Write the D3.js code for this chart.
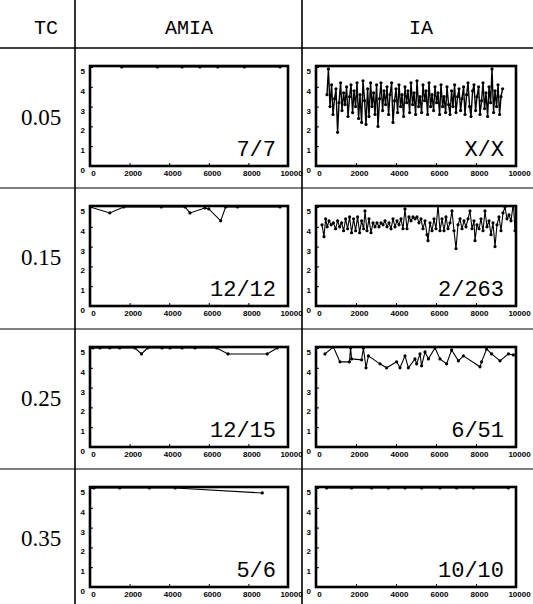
<!DOCTYPE html>
<html>
<head>
<meta charset="utf-8">
<script src="https://cdn.jsdelivr.net/npm/d3@7"></script>
<style>
  body { margin: 0; background: #fff; }
  .tick text { font-family: "Liberation Sans", Arial, sans-serif; font-weight: bold; font-size: 8px; }
</style>
</head>
<body>
<div id="chart"></div>
<script>
"use strict"

// table labels
const tcLabels = ["0.05", "0.15", "0.25", "0.35"];
const methods = ["AMIA", "IA"];
const xTicks = [0, 2000, 4000, 6000, 8000, 10000];
const yTicks = [0, 1, 2, 3, 4, 5];

// counts written in the corner of each panel
const amiaRatios = ["7/7", "12/12", "12/15", "5/6"];
const iaRatios = ["X/X", "2/263", "6/51", "10/10"];

// AMIA series, [iteration, value]
const amia005 = [[1600, 5], [3400, 5], [4650, 5], [5550, 5], [6450, 5], [7800, 5], [9600, 5]];
const amia015 = [[0, 5], [1000, 4.7], [1700, 5], [3600, 5], [4800, 5], [5050, 4.7], [5800, 4.95],
  [6000, 4.9], [6600, 4.3], [6850, 5], [7450, 5], [9600, 5]];
const amia025 = [[150, 5], [500, 5], [1000, 5], [1500, 5], [2270, 5], [2600, 4.7], [2900, 5], [3640, 5],
  [4040, 5], [4650, 5], [5300, 5], [6400, 5], [6970, 4.7], [8950, 4.7], [9450, 5]];
const amia035 = [[200, 5], [1500, 5], [3000, 5], [4300, 5], [8700, 4.75]];

// IA series, [iteration, value]
const ia005 = [[550, 3.6], [620, 4.9], [700, 3.0], [780, 4.1], [850, 2.6], [930, 3.4], [1000, 3.9], [1080, 1.7],
  [1150, 3.2], [1230, 4.2], [1300, 2.8], [1380, 3.7], [1450, 3.1], [1530, 4.0], [1600, 2.5], [1680, 3.5],
  [1750, 4.1], [1830, 2.7], [1900, 3.8], [1980, 3.0], [2050, 4.2], [2130, 2.4], [2200, 3.6], [2280, 2.2],
  [2350, 4.3], [2430, 3.3], [2500, 2.1], [2580, 3.9], [2650, 2.5], [2730, 4.2], [2800, 3.0], [2880, 3.7],
  [2950, 2.6], [3030, 4.1], [3100, 2.0], [3180, 3.4], [3250, 4.2], [3330, 2.8], [3400, 3.8], [3480, 3.1],
  [3550, 4.0], [3630, 2.6], [3700, 3.6], [3780, 4.2], [3850, 2.2], [3930, 3.3], [4000, 3.9], [4080, 2.7],
  [4150, 4.1], [4230, 3.0], [4300, 3.6], [4380, 2.5], [4450, 4.0], [4530, 3.2], [4600, 3.8], [4680, 2.7],
  [4750, 4.2], [4830, 3.1], [4900, 3.7], [4980, 2.6], [5050, 4.3], [5130, 3.0], [5200, 3.5], [5280, 2.7],
  [5350, 4.1], [5430, 3.3], [5500, 3.8], [5580, 2.6], [5650, 4.2], [5730, 3.0], [5800, 3.6], [5880, 2.8],
  [5950, 4.0], [6030, 3.2], [6100, 3.7], [6180, 2.6], [6250, 4.1], [6330, 3.0], [6400, 3.5], [6480, 2.7],
  [6550, 4.0], [6630, 3.1], [6700, 2.6], [6780, 3.8], [6850, 3.0], [6930, 4.1], [7000, 2.7], [7080, 3.5],
  [7150, 3.9], [7230, 2.8], [7300, 3.4], [7380, 4.0], [7450, 2.6], [7530, 3.6], [7600, 4.2], [7680, 3.0],
  [7750, 2.5], [7830, 3.8], [7900, 4.1], [7980, 2.8], [8050, 3.5], [8130, 4.0], [8200, 2.6], [8280, 3.3],
  [8350, 4.2], [8430, 2.9], [8500, 3.7], [8580, 2.5], [8650, 4.0], [8730, 3.2], [8800, 4.9], [8880, 2.7],
  [8950, 3.8], [9030, 3.0], [9100, 4.1], [9180, 2.6], [9250, 3.5], [9330, 3.9]];
const ia015 = [[300, 4.1], [400, 3.5], [480, 4.4], [560, 4.0], [650, 4.3], [760, 4.1], [870, 4.2], [980, 3.9],
  [1080, 4.3], [1180, 4.0], [1280, 4.2], [1380, 3.8], [1480, 4.4], [1580, 3.9], [1680, 4.5], [1780, 3.7],
  [1880, 4.4], [1980, 3.8], [2080, 4.5], [2180, 3.7], [2280, 4.3], [2380, 3.9], [2450, 4.8], [2550, 3.8],
  [2650, 4.4], [2750, 3.7], [2850, 4.2], [2950, 4.0], [3050, 4.2], [3150, 4.0], [3250, 4.2], [3350, 4.1],
  [3450, 4.3], [3550, 4.0], [3650, 4.2], [3750, 3.9], [3850, 4.4], [3950, 4.0], [4050, 4.3], [4150, 4.1],
  [4250, 4.4], [4350, 3.9], [4450, 4.9], [4550, 3.9], [4650, 4.5], [4750, 4.3], [4850, 4.5], [4950, 4.4],
  [5050, 4.5], [5150, 4.2], [5250, 4.4], [5350, 3.9], [5450, 4.3], [5550, 3.6], [5600, 3.3], [5700, 4.2],
  [5800, 3.8], [5900, 4.4], [6000, 3.9], [6100, 5.1], [6200, 3.8], [6300, 4.4], [6400, 3.8], [6500, 4.5],
  [6600, 3.9], [6700, 4.2], [6800, 4.8], [6900, 3.8], [7000, 2.9], [7100, 4.1], [7200, 4.4], [7300, 3.9],
  [7400, 4.3], [7500, 4.0], [7600, 4.4], [7700, 4.8], [7800, 3.9], [7900, 4.3], [7950, 3.3], [8050, 4.1],
  [8150, 3.9], [8250, 4.4], [8350, 3.8], [8450, 4.8], [8550, 4.0], [8650, 4.3], [8750, 3.6], [8850, 4.2],
  [8950, 3.0], [9050, 4.1], [9150, 4.5], [9250, 3.8], [9350, 4.7], [9450, 5.0], [9550, 4.4], [9650, 4.6],
  [9750, 4.3], [9870, 5.2], [9950, 3.8], [10000, 4.2]];
const ia025 = [[450, 4.7], [870, 5.05], [1200, 4.3], [1670, 4.3], [1730, 5.0], [1780, 4.45], [2280, 4.4],
  [2370, 5.0], [2500, 4.0], [2620, 4.6], [3200, 4.2], [3530, 4.0], [4030, 4.3], [4200, 4.0], [4450, 4.6],
  [4620, 4.0], [4950, 4.45], [5030, 4.2], [5200, 4.7], [5280, 4.1], [5450, 4.8], [5620, 4.45], [5950, 5.0],
  [6200, 4.45], [6530, 4.2], [6780, 4.9], [7120, 4.35], [7370, 4.6], [8200, 4.05], [8280, 4.3], [8530, 4.95],
  [8780, 4.7], [9200, 4.35], [9620, 4.7], [9870, 4.65]];
const ia035 = [[530, 5], [1780, 5], [2780, 5], [3620, 5], [4450, 5], [5280, 5], [6200, 5], [7030, 5],
  [7870, 5], [9620, 5]];

const amiaSeries = [amia005, amia015, amia025, amia035];
const iaSeries = [ia005, ia015, ia025, ia035];

// layout
const width = 533, height = 604;
const headerH = 48;
const rowTops = [48, 188, 329, 469];
const colLines = [75, 302];
const boxes = [{left: 90, w: 198}, {left: 316, w: 200}];
const boxOffset = 18, boxH = 100;

const svg = d3.select("#chart").append("svg")
  .attr("width", width)
  .attr("height", height)
  .style("display", "block");

// table rules
svg.append("line").attr("x1", 0).attr("x2", width).attr("y1", headerH).attr("y2", headerH)
  .attr("stroke", "#000").attr("stroke-width", 1.4);
rowTops.slice(1).forEach(function(y) {
  svg.append("line").attr("x1", 0).attr("x2", width).attr("y1", y).attr("y2", y)
    .attr("stroke", "#000").attr("stroke-width", 1.2);
});
colLines.forEach(function(x) {
  svg.append("line").attr("x1", x).attr("x2", x).attr("y1", 0).attr("y2", height)
    .attr("stroke", "#000").attr("stroke-width", 1.6);
});

// header
const mono = "'Liberation Mono', 'Courier New', monospace";
const headX = [46, 189, 421];
["TC"].concat(methods).forEach(function(t, i) {
  svg.append("text")
    .attr("x", headX[i]).attr("y", 34)
    .attr("text-anchor", "middle")
    .style("font-family", mono)
    .style("font-size", "20px")
    .text(t);
});

// row labels
tcLabels.forEach(function(t, r) {
  svg.append("text")
    .attr("x", 41).attr("y", rowTops[r] + boxOffset + boxH / 2 + 9)
    .attr("text-anchor", "middle")
    .style("font-family", "'Liberation Serif', 'Times New Roman', serif")
    .style("font-size", "23px")
    .text(t);
});

function drawPanel(r, c, data, ratio) {
  const b = boxes[c];
  const top = rowTops[r] + boxOffset;
  const g = svg.append("g").attr("transform", "translate(" + b.left + "," + top + ")");

  const x = d3.scaleLinear().domain([0, 10000]).range([0, b.w]);
  const y = d3.scaleLinear().domain([0, 5.05]).range([boxH, 0]);

  const clipId = "clip" + r + "_" + c;
  g.append("clipPath").attr("id", clipId)
    .append("rect").attr("x", 0).attr("y", 0).attr("width", b.w).attr("height", boxH);

  // axes (labels only)
  g.append("g")
    .attr("transform", "translate(3," + boxH + ")")
    .call(d3.axisBottom(x).tickValues(xTicks).tickSize(0).tickPadding(4).tickFormat(d3.format("d")))
    .call(function(a) { a.select(".domain").remove(); });
  g.append("g")
    .attr("transform", "translate(0,4)")
    .call(d3.axisLeft(y).tickValues(yTicks).tickSize(0).tickPadding(5).tickFormat(d3.format("d")))
    .call(function(a) { a.select(".domain").remove(); });

  // small inward ticks
  g.append("g")
    .attr("transform", "translate(0," + boxH + ")")
    .call(d3.axisTop(x).tickValues(xTicks).tickSize(3).tickFormat(""))
    .call(function(a) { a.select(".domain").remove(); });
  g.append("g")
    .call(d3.axisRight(y).tickValues(yTicks).tickSize(3).tickFormat(""))
    .call(function(a) { a.select(".domain").remove(); });

  const plot = g.append("g").attr("clip-path", "url(#" + clipId + ")");
  plot.append("path")
    .datum(data)
    .attr("fill", "none")
    .attr("stroke", "#000")
    .attr("stroke-width", data.length > 100 ? 1.4 : 1.1)
    .attr("d", d3.line().x(function(d) { return x(d[0]); }).y(function(d) { return y(d[1]); }));
  plot.selectAll("circle")
    .data(data)
    .enter()
    .append("circle")
      .attr("cx", function(d) { return x(d[0]); })
      .attr("cy", function(d) { return y(d[1]); })
      .attr("r", 1.6)
      .attr("fill", "#000");

  // frame
  g.append("rect")
    .attr("width", b.w).attr("height", boxH)
    .attr("fill", "none")
    .attr("stroke", "#000")
    .attr("stroke-width", 2.6);

  g.append("text")
    .attr("x", b.w - 12).attr("y", boxH - 10)
    .attr("text-anchor", "end")
    .style("font-family", mono)
    .style("font-size", "22px")
    .text(ratio);
}

for (let r = 0; r < 4; r++) {
  drawPanel(r, 0, amiaSeries[r], amiaRatios[r]);
  drawPanel(r, 1, iaSeries[r], iaRatios[r]);
}
</script>
</body>
</html>
